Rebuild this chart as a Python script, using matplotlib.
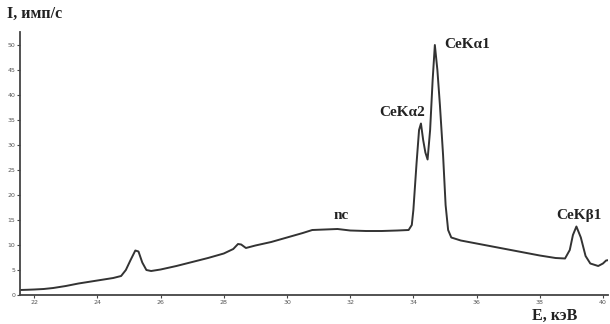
import matplotlib.pyplot as plt

# spectrum: energy (keV) and intensity (imp/s)
energy = [21.55, 21.8, 22.0, 22.3, 22.6, 23.0, 23.4, 23.8, 24.2, 24.5,
          24.75, 24.9, 25.05, 25.2, 25.3, 25.42, 25.55, 25.7, 26.0, 26.5,
          27.0, 27.5, 28.0, 28.3, 28.45, 28.55, 28.7, 29.0, 29.5, 30.0,
          30.5, 30.8, 31.2, 31.6, 32.0, 32.5, 33.0, 33.5, 33.85, 33.95,
          34.0, 34.1, 34.18, 34.24, 34.31, 34.38, 34.45, 34.53, 34.61, 34.68,
          34.76, 34.84, 34.94, 35.02, 35.1, 35.2, 35.5, 36.0, 36.5, 37.0,
          37.5, 38.0, 38.5, 38.8, 38.95, 39.05, 39.16, 39.3, 39.45, 39.6,
          39.85, 40.0, 40.1, 40.2]
intensity = [1.0, 1.05, 1.1, 1.2, 1.4, 1.8, 2.3, 2.7, 3.1, 3.4,
             3.8, 5.0, 7.0, 8.9, 8.7, 6.5, 5.0, 4.8, 5.1, 5.8,
             6.6, 7.4, 8.3, 9.2, 10.2, 10.1, 9.4, 9.9, 10.6, 11.5,
             12.4, 13.0, 13.1, 13.2, 12.9, 12.8, 12.8, 12.9, 13.0, 14.0,
             17.0, 26.3, 33.0, 34.3, 31.0, 28.5, 27.1, 33.0, 43.0, 50.0,
             45.0, 38.0, 28.0, 18.0, 13.0, 11.5, 10.9, 10.3, 9.7, 9.1,
             8.5, 7.9, 7.4, 7.3, 9.0, 12.0, 13.7, 11.5, 7.8, 6.3,
             5.8, 6.3, 6.9, 7.0]

x_ticks = [22, 24, 26, 28, 30, 32, 34, 36, 38, 40]
y_ticks = [0, 5, 10, 15, 20, 25, 30, 35, 40, 45, 50]

peak_labels = ['CeKα2', 'CeKα1', 'CeKβ1', 'nc']
peak_pos = [(33.63, 36.6), (35.69, 50.0), (39.25, 15.9), (31.7, 15.9)]

serif = 'Liberation Serif'

fig = plt.figure(figsize=(6.1, 3.24), dpi=100)
ax = fig.add_axes([20/610, 29/324, 588/610, 263/324])
ax.plot(energy, intensity, color='#333333', linewidth=1.4)
ax.set_xlim(21.55, 40.16)
ax.set_ylim(0, 52.6)

for s in ['top', 'right']:
    ax.spines[s].set_visible(False)
for s in ['left', 'bottom']:
    ax.spines[s].set_color('#444444')
    ax.spines[s].set_linewidth(1.3)

ax.set_xticks(x_ticks)
ax.set_yticks(y_ticks)
ax.tick_params(length=2, width=0.8, color='#444444', labelsize=4.5,
               labelcolor='#555555', pad=1.5)

for lab, (px, py) in zip(peak_labels, peak_pos):
    ax.text(px, py, lab, ha='center', va='center', fontsize=11,
            fontweight='bold', family=serif, color='#222222')

fig.text(7/610, 1 - 14/324, 'I, имп/с', ha='left', va='center', fontsize=11.5,
         fontweight='bold', family=serif, color='#222222')
fig.text(555/610, 1 - 316/324, 'E, кэВ', ha='center', va='center', fontsize=11.5,
         fontweight='bold', family=serif, color='#222222')

plt.savefig('out.png', dpi=100)
